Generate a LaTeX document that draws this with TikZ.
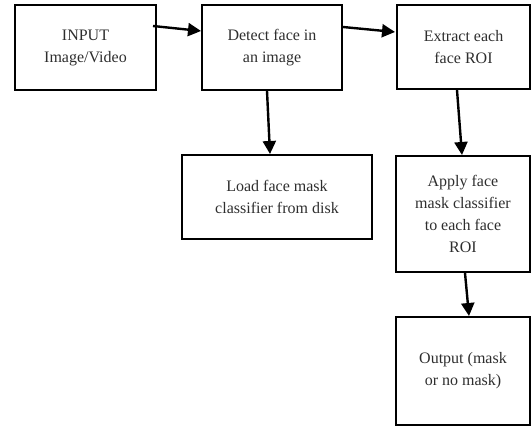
\documentclass[tikz,border=0pt]{standalone}
\usepackage{fontspec}
\setmainfont{Liberation Serif}
\usetikzlibrary{arrows.meta,calc}
\definecolor{inkgrey}{HTML}{2E2E2E}
\tikzset{
  stepbox/.style={draw=black, line width=2pt, rectangle, inner sep=0pt,
    align=center, text=inkgrey, font=\fontsize{16}{22}\selectfont},
  flow/.style={line width=2.4pt, -{Triangle[length=13pt,width=13pt]}}
}
\begin{document}
\begin{tikzpicture}[x=1pt,y=-1pt]
  \useasboundingbox (0,0) rectangle (531,427);
  \node[stepbox, minimum width=141pt, minimum height=85pt] (input) at (85.5,47.5) {INPUT\\Image/Video};
  \node[stepbox, minimum width=140pt, minimum height=85pt] (detect) at (272,47.5) {Detect face in\\an image};
  \node[stepbox, minimum width=133pt, minimum height=84pt] (extract) at (463.5,47) {Extract each\\face ROI};
  \node[stepbox, minimum width=190pt, minimum height=84pt] (load) at (277,197) {Load face mask\\classifier from disk};
  \node[stepbox, minimum width=134pt, minimum height=116pt] (apply) at (463,214) {Apply face\\mask classifier\\to each face\\ROI};
  \node[stepbox, minimum width=134pt, minimum height=108pt] (output) at (463,371) {Output (mask\\or no mask)};

  \draw[flow] ($(input.north east)+(-4,22)$) -- ($(detect.north west)+(0,27)$);
  \draw[flow] ($(detect.north east)+(0,23)$) -- ($(extract.north west)+(-1,28)$);
  \draw[flow] ($(detect.south)+(-5,0)$) -- ($(load.north)+(-7,0)$);
  \draw[flow] ($(extract.south)+(-6.5,0)$) -- ($(apply.north)+(-1,0)$);
  \draw[flow] ($(apply.south)+(2,0)$) -- ($(output.north)+(6,0)$);
\end{tikzpicture}
\end{document}
